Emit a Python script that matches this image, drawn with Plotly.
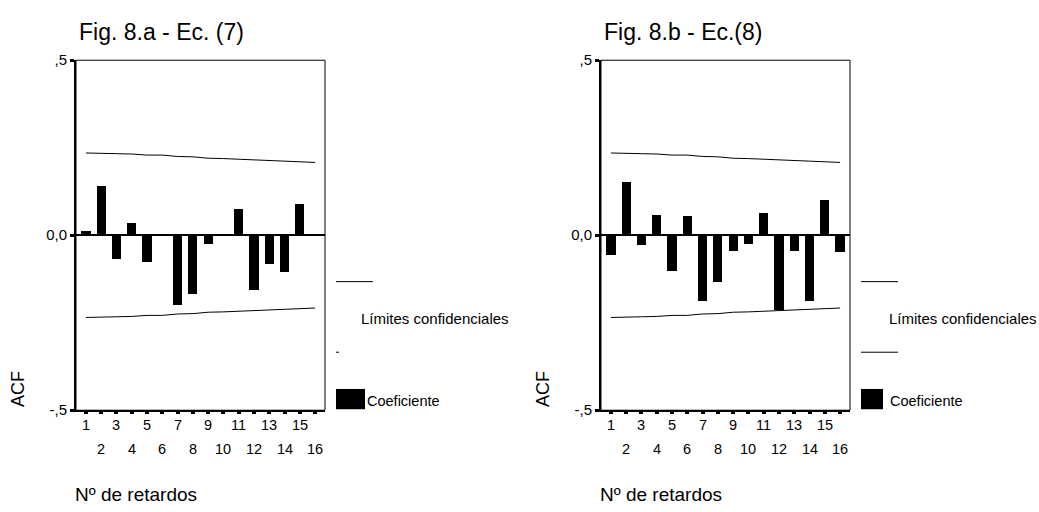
import plotly.graph_objects as go

# Lags and autocorrelation coefficients for the two residual series
lags = list(range(1, 17))
acf_7 = [0.012, 0.140, -0.069, 0.034, -0.077, 0.0, -0.201, -0.169,
         -0.026, 0.0, 0.074, -0.156, -0.083, -0.106, 0.089, 0.0]
acf_8 = [-0.057, 0.152, -0.030, 0.057, -0.104, 0.054, -0.189, -0.134,
         -0.046, -0.027, 0.062, -0.213, -0.046, -0.189, 0.101, -0.050]
# Upper confidence limit per lag (lower limit is its mirror image)
conf_upper = [0.235, 0.233, 0.233, 0.232, 0.229, 0.229, 0.225, 0.224,
              0.220, 0.219, 0.217, 0.216, 0.213, 0.212, 0.209, 0.208]

titles = ["Fig. 8.a - Ec. (7)", "Fig. 8.b - Ec.(8)"]
ytick_vals = [-0.5, 0.0, 0.5]
ytick_text = ["-,5", "0,0", ",5"]
legend_labels = ["Límites confidenciales", "Coeficiente"]
xlabel = "Nº de retardos"
ylabel = "ACF"

W, H = 1039, 512
FONT = "Liberation Sans, Arial, sans-serif"

# Panel boxes in pixels: (left, right)
panels = [(76, 325), (601, 850)]
top_px, bot_px = 53, 415


def px_x(p):
    return p / W


def px_y(p):
    return 1 - p / H


fig = go.Figure()
annotations = []
shapes = []

for i, (series, (lft, rgt)) in enumerate(zip([acf_7, acf_8], panels)):
    xa = "x" if i == 0 else "x2"
    ya = "y" if i == 0 else "y2"
    fig.add_trace(go.Bar(x=lags, y=series, width=0.6, marker_color="black",
                         marker_line_width=0, xaxis=xa, yaxis=ya,
                         showlegend=False))
    fig.add_trace(go.Scatter(x=lags, y=conf_upper, mode="lines",
                             line=dict(color="black", width=1),
                             xaxis=xa, yaxis=ya, showlegend=False))
    fig.add_trace(go.Scatter(x=lags, y=[-v for v in conf_upper], mode="lines",
                             line=dict(color="black", width=1),
                             xaxis=xa, yaxis=ya, showlegend=False))

    axis_x = dict(domain=[px_x(lft), px_x(rgt)], range=[0.35, 16.65],
                  showgrid=False, zeroline=False, showline=True,
                  linecolor="black", linewidth=2, mirror=False,
                  tickmode="array", tickvals=lags, showticklabels=False,
                  ticks="outside", ticklen=2, tickwidth=4, tickcolor="black",
                  anchor=ya, fixedrange=True)
    axis_y = dict(domain=[px_y(bot_px), px_y(top_px)], range=[-0.5, 0.5],
                  showgrid=False, zeroline=True, zerolinecolor="black",
                  zerolinewidth=1.5, showline=True, linecolor="black",
                  linewidth=2, mirror=False, tickmode="array",
                  tickvals=ytick_vals, ticktext=ytick_text,
                  ticks="outside", ticklen=4, tickwidth=3, tickcolor="black",
                  tickfont=dict(family=FONT, size=15, color="black"),
                  anchor=xa, fixedrange=True)
    if i == 0:
        fig.update_layout(xaxis=axis_x, yaxis=axis_y)
    else:
        fig.update_layout(xaxis2=axis_x, yaxis2=axis_y)

    # thin frame around the plot area
    shapes.append(dict(type="rect", xref=f"{xa} domain", yref=f"{ya} domain",
                       x0=0, x1=1, y0=0, y1=1,
                       line=dict(color="black", width=1)))

    # lag labels: odd lags on the first row, even lags on the second
    for lag in lags:
        row_y = 430 if lag % 2 == 1 else 455
        annotations.append(dict(x=lag, xref=xa, y=px_y(row_y), yref="paper",
                                text=str(lag), showarrow=False,
                                xanchor="center", yanchor="middle",
                                font=dict(family=FONT, size=14.5, color="black")))

    # panel title
    annotations.append(dict(x=px_x(lft + 1), y=px_y(24), xref="paper", yref="paper",
                            text=titles[i], showarrow=False, xanchor="left",
                            yanchor="middle",
                            font=dict(family=FONT, size=23, color="black")))
    # axis titles
    annotations.append(dict(x=px_x(lft - 58), y=px_y(393), xref="paper", yref="paper",
                            text=ylabel, showarrow=False, textangle=-90,
                            xanchor="center", yanchor="middle",
                            font=dict(family=FONT, size=18, color="black")))
    annotations.append(dict(x=px_x(lft - 3), y=px_y(502), xref="paper", yref="paper",
                            text=xlabel, showarrow=False, xanchor="left",
                            yanchor="middle",
                            font=dict(family=FONT, size=19, color="black")))

# legend blocks to the right of each panel
leg = [
    dict(line1=(336, 373), line2=(336, 339), box=(336, 365), text_x=359, coef_x=365),
    dict(line1=(861, 898), line2=(861, 898), box=(861, 883), text_x=887, coef_x=888),
]
for g in leg:
    for (x0, x1), yy in [(g["line1"], 282), (g["line2"], 355)]:
        shapes.append(dict(type="line", xref="paper", yref="paper",
                           x0=px_x(x0), x1=px_x(x1), y0=px_y(yy), y1=px_y(yy),
                           line=dict(color="black", width=1)))
    shapes.append(dict(type="rect", xref="paper", yref="paper",
                       x0=px_x(g["box"][0]), x1=px_x(g["box"][1]),
                       y0=px_y(414), y1=px_y(393),
                       fillcolor="black", line=dict(width=0)))
    annotations.append(dict(x=px_x(g["text_x"]), y=px_y(320), xref="paper", yref="paper",
                            text=legend_labels[0], showarrow=False, xanchor="left",
                            yanchor="middle",
                            font=dict(family=FONT, size=15, color="black")))
    annotations.append(dict(x=px_x(g["coef_x"]), y=px_y(405), xref="paper", yref="paper",
                            text=legend_labels[1], showarrow=False, xanchor="left",
                            yanchor="middle",
                            font=dict(family=FONT, size=14.5, color="black")))

fig.update_layout(width=W, height=H, margin=dict(l=0, r=0, t=0, b=0),
                  paper_bgcolor="white", plot_bgcolor="white",
                  bargap=0, annotations=annotations, shapes=shapes,
                  showlegend=False)

fig.write_html("out.html", config={"displayModeBar": False})
